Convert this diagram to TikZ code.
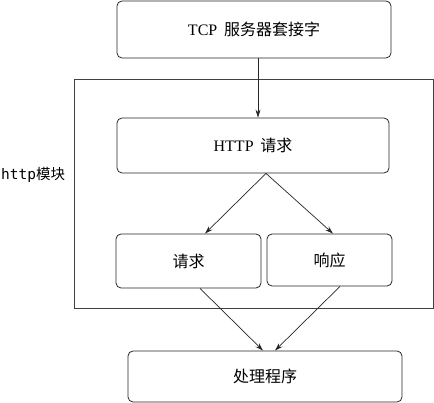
\documentclass[tikz,border=0pt]{standalone}
\usepackage{fontspec}
\setmainfont{Liberation Serif}
\newfontfamily\cjk{Noto Sans CJK SC}
\newfontfamily\monof{DejaVu Sans Mono}
\usetikzlibrary{arrows.meta}
\begin{document}
\begin{tikzpicture}[x=1pt,y=-1pt,
  box/.style={draw=black!85, line width=0.8pt, rounded corners=5pt, inner sep=0pt,
    font=\fontsize{16}{19}\selectfont},
  arr/.style={draw=black!85, line width=0.7pt, -{Stealth[length=8pt,width=5pt]}},
  frame/.style={draw=black!75, line width=0.8pt}]
\useasboundingbox (0,0) rectangle (434,403);
\draw[frame] (74,79) rectangle (433,308);
\node[anchor=west, inner sep=0pt, font=\fontsize{14.5}{17}\selectfont] (lbl) at (1,175) {\monof http\cjk 模块};
\node[box, minimum width=274pt, minimum height=57pt] (tcp) at (254,29.5) {TCP\, {\cjk 服务器套接字}};
\node[box, minimum width=272pt, minimum height=55pt] (http) at (253,145.5) {HTTP\, {\cjk 请求}};
\node[box, minimum width=145pt, minimum height=54pt] (req) at (188.5,261) {\cjk 请求};
\node[box, minimum width=125pt, minimum height=52pt] (resp) at (329.5,260) {\cjk 响应};
\node[box, minimum width=274pt, minimum height=51pt] (hand) at (265,376.5) {\cjk 处理程序};
\draw[arr] ([xshift=4pt]tcp.south) -- ([xshift=5pt]http.north);
\draw[arr] ([xshift=13pt]http.south) -- ([xshift=16.5pt]req.north);
\draw[arr] ([xshift=13pt]http.south) -- ([xshift=3.5pt]resp.north);
\draw[arr] ([xshift=11.5pt]req.south) -- ([xshift=-2pt]hand.north);
\draw[arr] ([xshift=10.5pt]resp.south) -- ([xshift=10pt]hand.north);
\end{tikzpicture}
\end{document}
